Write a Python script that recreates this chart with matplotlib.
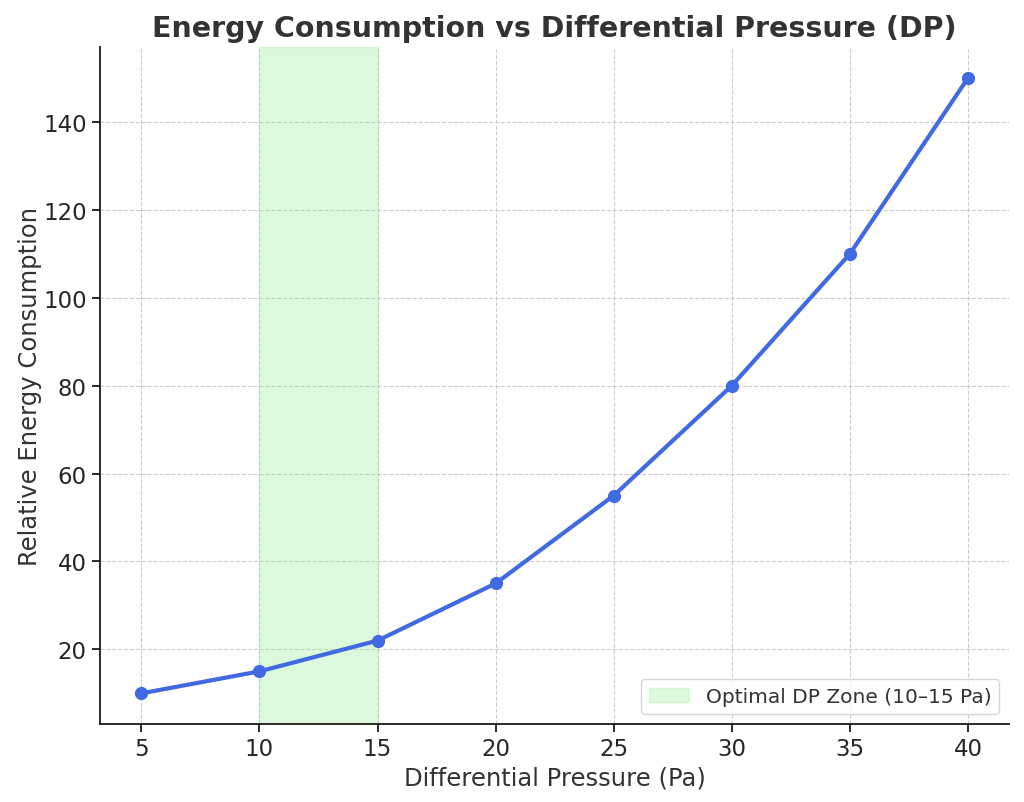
import matplotlib
matplotlib.use("Agg")
import matplotlib.pyplot as plt

dp = [5, 10, 15, 20, 25, 30, 35, 40]
energy = [10, 15, 22, 35, 55, 80, 110, 150]
zone = [10, 15]
title = "Energy Consumption vs Differential Pressure (DP)"
xlabel = "Differential Pressure (Pa)"
ylabel = "Relative Energy Consumption"
zone_label = "Optimal DP Zone (10–15 Pa)"

plt.rcParams['font.family'] = ['DejaVu Sans']
text_color = '#333333'

fig = plt.figure(figsize=(10.24, 8.03), dpi=100)
ax = fig.add_axes([0.0977, 0.097, 0.888, 0.843])

ax.axvspan(zone[0], zone[1], color='#90EE90', alpha=0.3, label=zone_label, zorder=1)
ax.plot(dp, energy, color='#4169E1', linewidth=3, marker='o', markersize=8.5, zorder=3)

ax.grid(True, linestyle='--', color='#cccccc', linewidth=0.8, zorder=0)
ax.set_axisbelow(True)
for s in ['top', 'right']:
    ax.spines[s].set_visible(False)
for s in ['left', 'bottom']:
    ax.spines[s].set_linewidth(1.3)
    ax.spines[s].set_color('#1a1a1a')

ax.tick_params(labelsize=16.5, colors='#1a1a1a', length=6, width=1.3, labelcolor='#262626')
ax.set_xticks(dp)
ax.set_title(title, fontsize=20.5, fontweight='bold', color=text_color, pad=8)
ax.set_xlabel(xlabel, fontsize=17.5, color=text_color, labelpad=4)
ax.set_ylabel(ylabel, fontsize=17.5, color=text_color, labelpad=1)
ax.legend(loc='lower right', fontsize=14.5, labelcolor=text_color)

fig.savefig('out.png', dpi=100)
